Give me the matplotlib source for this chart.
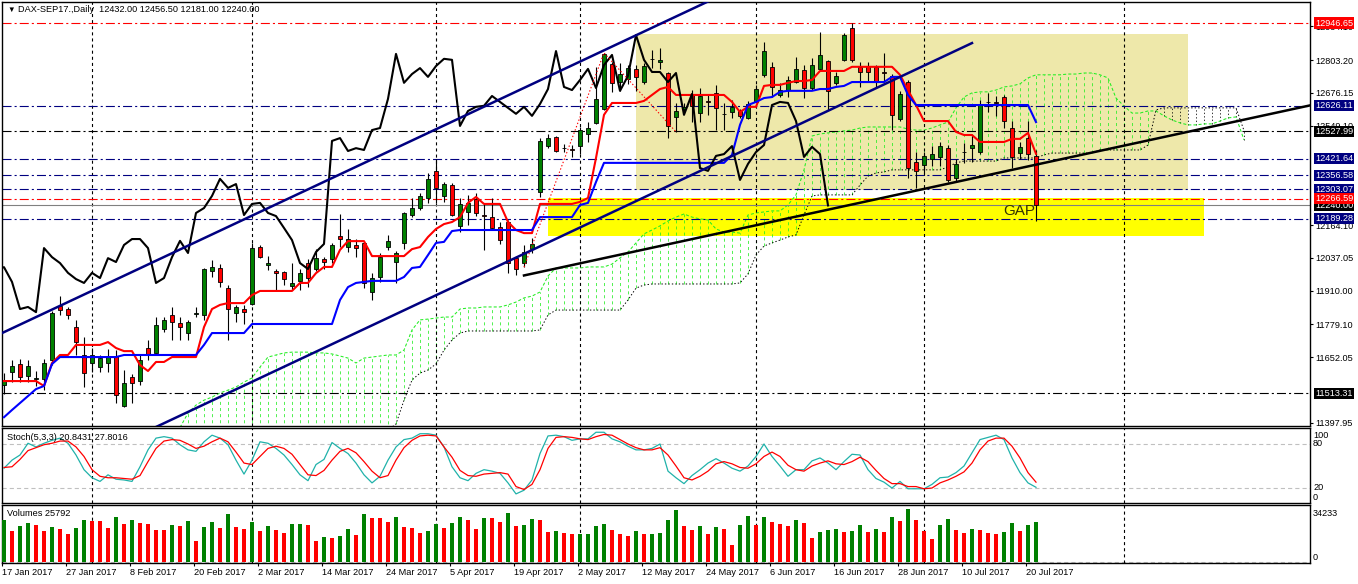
import numpy as np
import matplotlib
matplotlib.use("Agg")
import matplotlib.pyplot as plt
from matplotlib.patches import Rectangle
from matplotlib.transforms import blended_transform_factory

plt.rcParams['font.family'] = ['Liberation Sans', 'DejaVu Sans']
plt.rcParams['font.size'] = 6.6
plt.rcParams['lines.scale_dashes'] = False

# ---- daily bars, 17 Jan 2017 .. 21 Jul 2017 (bar index 0..129) ----
opens = [11545, 11595, 11626, 11580, 11568, 11568, 11642, 11850, 11839, 11770,
         11661, 11630, 11614, 11630, 11657, 11463, 11576, 11560, 11688, 11669,
         11761, 11816, 11785, 11746, 11820, 11816, 11986, 11998, 11920, 11823,
         11839, 11858, 12079, 12009, 11987, 11983, 11928, 11948, 12017, 11994,
         12032, 12033, 12122, 12079, 12087, 12095, 11905, 11963, 12079, 12021,
         12095, 12203, 12230, 12269, 12374, 12277, 12320, 12160, 12215, 12265,
         12203, 12195, 12157, 12176, 12037, 12017, 12071, 12292, 12470, 12505,
         12462, 12459, 12470, 12517, 12560, 12614, 12788, 12718, 12730, 12769,
         12718, 12808, 12796, 12753, 12583, 12614, 12668, 12598, 12645, 12676,
         12595, 12602, 12606, 12579, 12641, 12745, 12776, 12668, 12687, 12718,
         12765, 12695, 12769, 12800, 12715, 12804, 12927, 12776, 12780, 12776,
         12757, 12742, 12575, 12718, 12408, 12397, 12420, 12428, 12463, 12347,
         12447, 12463, 12447, 12641, 12641, 12660, 12540, 12443, 12501, 12432]
highs = [11590, 11640, 11645, 11640, 11600, 11645, 11830, 11890, 11847, 11796,
         11730, 11688, 11661, 11684, 11680, 11603, 11587, 11661, 11719, 11808,
         11808, 11847, 11808, 11796, 11847, 11998, 12029, 12013, 11932, 11855,
         11855, 12095, 12087, 12044, 11994, 11986, 12017, 11994, 12033, 12071,
         12040, 12095, 12207, 12149, 12110, 12099, 11979, 12056, 12126, 12064,
         12215, 12269, 12288, 12366, 12420, 12331, 12327, 12269, 12280, 12288,
         12250, 12269, 12176, 12184, 12044, 12087, 12114, 12501, 12517, 12509,
         12478, 12474, 12544, 12563, 12777, 12831, 12796, 12792, 12784, 12784,
         12792, 12842, 12850, 12757, 12637, 12637, 12687, 12695, 12668, 12707,
         12637, 12649, 12614, 12645, 12707, 12873, 12796, 12715, 12742, 12815,
         12784, 12811, 12912, 12804, 12757, 12908, 12946.65, 12796, 12796, 12784,
         12831, 12749, 12684, 12726, 12447, 12447, 12470, 12486, 12474, 12420,
         12482, 12513, 12649, 12676, 12664, 12668, 12567, 12486, 12567, 12456.5]
lows = [11510, 11556, 11556, 11556, 11540, 11525, 11622, 11816, 11800, 11661,
        11537, 11595, 11595, 11595, 11475, 11460, 11475, 11545, 11642, 11669,
        11749, 11719, 11719, 11719, 11808, 11796, 11963, 11924, 11719, 11789,
        11780, 11854, 12036, 11990, 11913, 11932, 11913, 11913, 11924, 11986,
        11994, 12017, 12079, 12060, 12040, 11920, 11874, 11944, 12067, 11940,
        12071, 12196, 12222, 12250, 12250, 12254, 12199, 12137, 12164, 12199,
        12067, 12145, 12090, 11979, 11970, 12001, 12056, 12273, 12462, 12447,
        12447, 12428, 12440, 12486, 12556, 12610, 12680, 12683, 12711, 12683,
        12711, 12773, 12769, 12501, 12525, 12606, 12564, 12564, 12591, 12533,
        12533, 12579, 12579, 12575, 12641, 12738, 12660, 12660, 12660, 12714,
        12656, 12687, 12765, 12610, 12707, 12800, 12796, 12699, 12718, 12699,
        12718, 12533, 12567, 12347, 12308, 12366, 12393, 12393, 12331, 12331,
        12405, 12408, 12439, 12602, 12587, 12540, 12385, 12420, 12416, 12181]
closes = [11565, 11618, 11576, 11618, 11570, 11630, 11823, 11835, 11816, 11711,
          11591, 11661, 11649, 11657, 11506, 11552, 11552, 11641, 11665, 11777,
          11796, 11788, 11769, 11789, 11823, 11994, 12001, 11944, 11839, 11847,
          11827, 12075, 12040, 12017, 11979, 11955, 11940, 11979, 11959, 12036,
          12021, 12087, 12110, 12110, 12075, 11940, 11959, 12040, 12103, 12056,
          12211, 12230, 12277, 12343, 12308, 12323, 12203, 12246, 12250, 12211,
          12199, 12153, 12106, 12017, 11994, 12060, 12091, 12490, 12501, 12451,
          12462, 12455, 12532, 12540, 12653, 12827, 12715, 12749, 12772, 12738,
          12780, 12808, 12804, 12548, 12606, 12622, 12626, 12664, 12641, 12618,
          12595, 12622, 12587, 12633, 12691, 12838, 12699, 12687, 12726, 12769,
          12695, 12784, 12823, 12684, 12742, 12900, 12804, 12757, 12757, 12718,
          12753, 12591, 12672, 12385, 12374, 12432, 12439, 12470, 12339, 12401,
          12447, 12474, 12629, 12641, 12637, 12567, 12428, 12467, 12439, 12240]

# ichimoku lines
tenkan = [11560, 11560, 11560, 11560, 11560, 11541, 11630, 11661, 11661, 11700,
          11700, 11700, 11700, 11711, 11688, 11676, 11676, 11622, 11599, 11634,
          11634, 11653, 11653, 11653, 11653, 11769, 11839, 11855, 11862, 11862,
          11862, 11893, 11909, 11909, 11909, 11909, 11909, 11940, 11940, 11978,
          12002, 12002, 12068, 12102, 12102, 12102, 12044, 12044, 12044, 12044,
          12044, 12071, 12079, 12118, 12149, 12168, 12176, 12195, 12250, 12273,
          12246, 12246, 12246, 12176, 12145, 12133, 12133, 12246, 12246, 12246,
          12246, 12246, 12254, 12269, 12424, 12591, 12637, 12637, 12637, 12637,
          12645, 12668, 12691, 12699, 12668, 12668, 12668, 12668, 12668, 12668,
          12668, 12641, 12602, 12622, 12622, 12703, 12707, 12707, 12715, 12722,
          12722, 12726, 12761, 12761, 12761, 12761, 12777, 12777, 12777, 12777,
          12777, 12777, 12746, 12687, 12629, 12567, 12567, 12567, 12567, 12525,
          12513, 12513, 12486, 12486, 12486, 12486, 12498, 12498, 12521, 12440]
kijun = [11420, 11448, 11475, 11502, 11529, 11541, 11626, 11653, 11653, 11653,
         11653, 11653, 11653, 11653, 11653, 11661, 11661, 11661, 11661, 11661,
         11661, 11661, 11661, 11661, 11661, 11700, 11746, 11746, 11746, 11746,
         11746, 11781, 11781, 11781, 11781, 11781, 11781, 11781, 11781, 11781,
         11781, 11781, 11874, 11924, 11940, 11944, 11948, 11948, 11948, 11948,
         11963, 11998, 12002, 12048, 12095, 12099, 12141, 12145, 12145, 12145,
         12145, 12145, 12145, 12145, 12145, 12145, 12145, 12195, 12195, 12195,
         12195, 12195, 12242, 12250, 12331, 12405, 12405, 12405, 12405, 12405,
         12405, 12405, 12405, 12405, 12405, 12405, 12405, 12405, 12405, 12405,
         12405, 12436, 12552, 12629, 12641, 12656, 12660, 12680, 12684, 12684,
         12684, 12684, 12691, 12691, 12699, 12703, 12718, 12718, 12718, 12718,
         12718, 12738, 12738, 12668, 12629, 12629, 12629, 12629, 12629, 12629,
         12629, 12629, 12629, 12629, 12629, 12629, 12629, 12629, 12629, 12563]

# cloud, bars 22..155 (shifted 26 bars ahead)
cloud_start = 22
span_a = [11380, 11436, 11467, 11486, 11498, 11514, 11525, 11537, 11556, 11572,
          11614, 11653, 11661, 11669, 11672, 11672, 11672, 11669, 11669, 11665,
          11657, 11649, 11630, 11649, 11653, 11657, 11661, 11661, 11680, 11758,
          11797, 11800, 11804, 11808, 11808, 11839, 11843, 11843, 11847, 11847,
          11847, 11855, 11866, 11882, 11889, 11905, 11967, 11998, 11998, 11998,
          11998, 12002, 12002, 12002, 12013, 12037, 12060, 12095, 12130, 12145,
          12161, 12180, 12195, 12207, 12195, 12188, 12184, 12149, 12137, 12137,
          12133, 12203, 12211, 12215, 12219, 12219, 12242, 12281, 12378, 12509,
          12517, 12521, 12525, 12529, 12532, 12540, 12544, 12544, 12544, 12544,
          12544, 12536, 12532, 12532, 12540, 12552, 12563, 12618, 12660, 12676,
          12680, 12680, 12687, 12699, 12703, 12711, 12734, 12746, 12746, 12746,
          12746, 12749, 12749, 12753, 12753, 12746, 12734, 12656, 12625, 12598,
          12598, 12606, 12606, 12587, 12571, 12560, 12552, 12552, 12556, 12556,
          12567, 12579, 12583, 12494]
span_b = [11350, 11350, 11350, 11350, 11350, 11350, 11350, 11350, 11350, 11350,
          11350, 11350, 11350, 11350, 11350, 11350, 11350, 11350, 11350, 11350,
          11350, 11350, 11350, 11350, 11350, 11350, 11370, 11394, 11486, 11564,
          11591, 11603, 11626, 11680, 11719, 11746, 11754, 11754, 11754, 11754,
          11754, 11754, 11754, 11754, 11754, 11758, 11816, 11835, 11835, 11835,
          11835, 11835, 11835, 11835, 11835, 11835, 11874, 11920, 11932, 11936,
          11936, 11936, 11936, 11936, 11936, 11936, 11936, 11936, 11936, 11936,
          11940, 11975, 12048, 12083, 12095, 12106, 12118, 12126, 12203, 12277,
          12281, 12281, 12281, 12281, 12281, 12319, 12354, 12366, 12370, 12378,
          12378, 12378, 12378, 12378, 12378, 12378, 12389, 12405, 12412, 12412,
          12412, 12412, 12412, 12424, 12424, 12424, 12424, 12424, 12436, 12443,
          12443, 12443, 12443, 12443, 12443, 12455, 12455, 12455, 12455, 12455,
          12455, 12474, 12610, 12618, 12618, 12618, 12618, 12618, 12618, 12618,
          12618, 12618, 12618, 12530]

stoch_k = [47, 58, 65, 81, 76, 81, 85, 88, 81, 65,
           45, 34, 29, 38, 32, 31, 29, 49, 72, 88,
           90, 88, 79, 72, 70, 83, 92, 88, 79, 58,
           39, 58, 83, 81, 74, 65, 52, 38, 30, 52,
           59, 82, 74, 67, 54, 38, 27, 36, 58, 76,
           86, 88, 94, 94, 92, 76, 49, 34, 30, 40,
           45, 43, 40, 27, 12, 17, 31, 67, 91, 92,
           90, 85, 87, 87, 96, 96, 87, 83, 77, 72,
           72, 74, 80, 43, 34, 26, 37, 45, 54, 60,
           54, 47, 43, 50, 63, 80, 63, 50, 36, 45,
           45, 57, 61, 54, 45, 56, 66, 65, 45, 33,
           28, 20, 29, 19, 19, 19, 25, 34, 35, 41,
           50, 68, 86, 89, 92, 86, 61, 41, 27, 21]
stoch_d = [48, 49, 59, 71, 75, 79, 81, 84, 84, 76,
           63, 45, 36, 34, 34, 33, 32, 37, 56, 74,
           84, 86, 85, 80, 74, 77, 83, 88, 83, 69,
           54, 52, 63, 74, 77, 74, 66, 52, 38, 37,
           44, 58, 70, 74, 68, 56, 43, 34, 37, 58,
           75, 85, 91, 92, 91, 76, 62, 44, 37, 36,
           39, 40, 41, 39, 22, 18, 25, 45, 74, 89,
           90, 89, 87, 86, 90, 93, 92, 86, 80, 75,
           72, 72, 75, 65, 50, 34, 31, 36, 43, 53,
           56, 53, 48, 47, 53, 63, 69, 63, 51, 45,
           43, 50, 54, 57, 53, 52, 56, 62, 56, 44,
           33, 26, 26, 22, 22, 19, 20, 27, 31, 36,
           42, 54, 72, 84, 88, 88, 77, 61, 41, 28]

volumes = [27100, 20000, 23300, 25000, 23900, 20000, 22400, 21300, 18100, 21700,
           27100, 26500, 26400, 21700, 28900, 24500, 27100, 25000, 24300, 20700,
           20600, 23700, 23300, 26500, 13600, 22400, 25800, 21700, 31000, 22400,
           21300, 25800, 20000, 23300, 20700, 18500, 24300, 24400, 24200, 13600,
           15900, 15500, 16800, 21300, 17400, 31000, 28400, 28300, 25800, 29100,
           22400, 21700, 18700, 20000, 24500, 21700, 25200, 29100, 27100, 21300,
           28400, 28300, 25800, 31400, 23300, 23700, 27800, 27100, 19400, 20000,
           18700, 18100, 18200, 18300, 23300, 24500, 20700, 18100, 16800, 20000,
           18100, 18200, 18700, 27100, 33600, 23300, 20700, 23300, 18100, 22600,
           21300, 11000, 23900, 29700, 23900, 29100, 25800, 24500, 23300, 27100,
           25200, 15500, 19400, 20700, 21300, 19400, 20000, 23900, 19400, 21300,
           19400, 29100, 26500, 34233, 27100, 20000, 14900, 23900, 27800, 20700,
           18700, 21300, 20700, 18700, 18100, 19400, 25200, 20000, 23900, 25792]

date_bars = [0, 8, 16, 24, 32, 40, 48, 56, 64, 72, 80, 88, 96, 104, 112, 120, 128]
date_labels = ['17 Jan 2017', '27 Jan 2017', '8 Feb 2017', '20 Feb 2017', '2 Mar 2017',
               '14 Mar 2017', '24 Mar 2017', '5 Apr 2017', '19 Apr 2017', '2 May 2017',
               '12 May 2017', '24 May 2017', '6 Jun 2017', '16 Jun 2017', '28 Jun 2017',
               '10 Jul 2017', '20 Jul 2017']
month_starts = [11, 31, 54, 72, 94, 115, 140]

price_ticks = [12934.10, 12803.20, 12676.15, 12549.10, 12164.10, 12037.05,
               11910.00, 11779.10, 11652.05, 11397.95]
level_prices = [12946.65, 12626.11, 12527.99, 12421.64, 12356.58, 12303.07,
                12266.59, 12189.28, 11513.31]
level_colors = ['red', 'navy', 'black', 'navy', 'navy', 'navy', 'red', 'navy', 'black']

# drawn objects (bar, price)
upper_channel = [(-1, 11735), (88, 13030)]
lower_channel = [(10, 11251), (121, 12869)]
support_line = [(65, 11969), (129, 12398)]
zigzag_bars = [65, 75, 84]
range_box = [(79, 12300), (148, 12904)]
gap_box = [(68, 12122), (150, 12269)]

opens = np.array(opens, float); highs = np.array(highs, float)
lows = np.array(lows, float); closes = np.array(closes, float)
x = np.arange(len(closes))

W, H = 1358, 584
fig = plt.figure(figsize=(W / 100, H / 100), dpi=100)


def box(top, bottom):
    return [2 / W, (H - bottom) / H, 1308 / W, (bottom - top) / H]


def ptext(px, py, s, **kw):
    kw.setdefault('va', 'center')
    fig.text(px / W, 1 - py / H, s, **kw)


ax = fig.add_axes(box(2, 426))
ax_st = fig.add_axes(box(428, 503))
ax_v = fig.add_axes(box(505, 563))

for a in (ax, ax_st, ax_v):
    a.set_xlim(-0.25, 163.25)
    for s in a.spines.values():
        s.set_linewidth(1.0)
        s.set_color('black')
    for b in month_starts:
        a.axvline(b, color='black', lw=0.8, ls=(0, (2.2, 2.2)), zorder=1.6)
    a.set_yticks([])
    a.set_xticks([])

# ---------- main panel ----------
ax.set_ylim(11386, 13028)

(x0, p0), (x1, p1) = range_box
ax.add_patch(Rectangle((x0, p0), x1 - x0, p1 - p0, fc='#eee8aa', ec='none', zorder=0.3))
(x0, p0), (x1, p1) = gap_box
ax.add_patch(Rectangle((x0, p0), x1 - x0, p1 - p0, fc='#ffff00', ec='none', zorder=0.4))

cb = np.arange(cloud_start, cloud_start + len(span_a))
sa = np.array(span_a, float); sb = np.array(span_b, float)
bull = sa >= sb
ax.vlines(cb[bull], sb[bull], sa[bull], color='#22ee22', lw=0.55, ls=(0, (2.2, 2.2)), zorder=1)
ax.vlines(cb[~bull], sa[~bull], sb[~bull], color='black', lw=0.55, ls=(0, (1, 1.5)), zorder=1)
ax.plot(cb, sa, color='#22ee22', lw=0.75, ls=(0, (2.2, 1.5)), zorder=1.1)
ax.plot(cb, sb, color='black', lw=0.7, ls=(0, (1, 1.5)), zorder=1.1)

dashdot = (0, (6.5, 2.2, 1.5, 2.2))
for p, c in zip(level_prices, level_colors):
    ax.axhline(p, color=c, lw=0.8, ls=dashdot, zorder=1.7)
ax.axhline(closes[-1], color='#808080', lw=0.8, zorder=1.7)

# candles
up = closes >= opens
ax.vlines(x, lows, highs, color='black', lw=0.8, zorder=3)
ax.bar(x, np.abs(closes - opens), bottom=np.minimum(opens, closes), width=0.62,
       color=np.where(up, '#008000', '#ff0000'), edgecolor='black', lw=0.6, zorder=3.1)

# ichimoku
ax.plot(x, tenkan, color='red', lw=1.5, zorder=4)
ax.plot(x, kijun, color='blue', lw=1.5, zorder=4)
ax.plot(x - 26, closes, color='black', lw=1.5, zorder=4)

# trend lines
for line in (upper_channel, lower_channel):
    (a0, b0), (a1, b1) = line
    ax.plot([a0, a1], [b0, b1], color='#000080', lw=1.8, zorder=4.5)
(a0, b0), (a1, b1) = support_line
slope = (b1 - b0) / (a1 - a0)
ax.plot([a0, 163.25], [b0, b0 + slope * (163.25 - a0)], color='black', lw=1.8, zorder=4.5)

zz_prices = [lows[zigzag_bars[0]], highs[zigzag_bars[1]], lows[zigzag_bars[2]]]
ax.plot(zigzag_bars, zz_prices, color='red', lw=0.8, ls=(0, (1, 1.5)), zorder=4.4)

ax.text(124.9, 12219, 'GAP', fontsize=11, color='#333300', va='center', ha='left', zorder=5)

ax.yaxis.tick_right()
ax.set_yticks(price_ticks)
ax.set_yticklabels(['%.2f' % t for t in price_ticks])
ax.tick_params(axis='y', direction='out', length=2.2, pad=2, labelsize=6.6, width=0.8)

# price labels: bid first so the 12266.59 label sits over it, as on the chart
trans = blended_transform_factory(ax.transAxes, ax.transData)
for p, c in zip([closes[-1]] + level_prices, ['black'] + level_colors):
    ax.text(1 + 5 / 1308, p, '%.2f' % p, transform=trans, color='white', fontsize=6.6,
            va='center', ha='left', zorder=10, clip_on=False,
            bbox=dict(boxstyle='square,pad=0.12', fc=c, ec='none'))

# ---------- stochastic ----------
ax_st.set_ylim(-0.4, 101.8)
for lv in (20, 80):
    ax_st.axhline(lv, color='#c0c0c0', lw=0.8, ls=(0, (3, 2.2)), zorder=1)
ax_st.plot(x, stoch_k, color='#20b2aa', lw=0.9, zorder=3)
ax_st.plot(x, stoch_d, color='red', lw=0.9, zorder=3)

# ---------- volumes ----------
ax_v.set_ylim(-646, 36822)
vol = np.array(volumes, float)
rising = np.concatenate([[True], vol[1:] >= vol[:-1]])
ax_v.bar(x, vol, width=0.55, color=np.where(rising, '#008000', '#ff0000'), lw=0, zorder=3)
ax_v.axhline(0, color='#c0c0c0', lw=0.8, ls=(0, (3, 2.2)), zorder=1)

ax_v.set_xticks(np.array(date_bars) - 0.25)
ax_v.set_xticklabels(date_labels, ha='left')
ax_v.tick_params(axis='x', direction='out', length=2.2, pad=1.5, labelsize=6.6, width=0.8)

# ---------- texts ----------
ptext(7, 10, '\u25bc', fontsize=5.5)
ptext(18, 10, 'DAX-SEP17.,Daily  %.2f %.2f %.2f %.2f' % (opens[-1], highs[-1], lows[-1], closes[-1]))
ptext(7, 437, 'Stoch(5,3,3) 20.8431 27.8016')
ptext(7, 514, 'Volumes %d' % volumes[-1])
ptext(1313, 435, '100')
ptext(1313, 444, '80')
ptext(1313, 488, '20')
ptext(1313, 497, '0')
ptext(1313, 513, '%d' % max(volumes))
ptext(1313, 558, '0')

fig.savefig('out.png', dpi=100)
